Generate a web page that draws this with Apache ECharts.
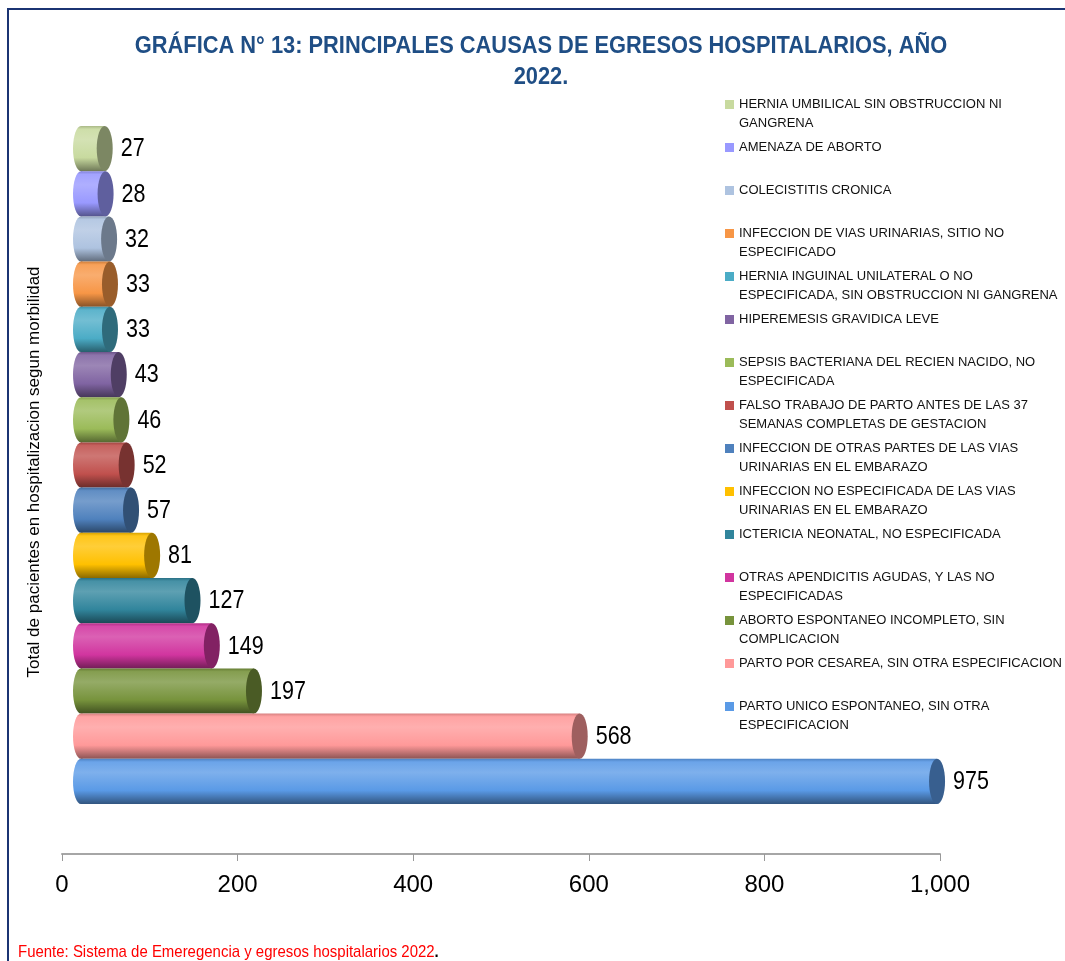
<!DOCTYPE html>
<html>
<head>
<meta charset="utf-8">
<script src="https://cdn.jsdelivr.net/npm/echarts@6/dist/echarts.min.js"></script>
<style>
	html, body { margin: 0; padding: 0; background: #fff; }
	#chart { width: 1065px; height: 961px; }
</style>
</head>
<body>
<div id="chart"></div>
<script>
// causas, de arriba hacia abajo (igual que la leyenda)
var causas = [
	'HERNIA UMBILICAL SIN OBSTRUCCION NI\nGANGRENA',
	'AMENAZA DE ABORTO',
	'COLECISTITIS CRONICA',
	'INFECCION DE VIAS URINARIAS, SITIO NO\nESPECIFICADO',
	'HERNIA INGUINAL UNILATERAL O NO\nESPECIFICADA, SIN OBSTRUCCION NI GANGRENA',
	'HIPEREMESIS GRAVIDICA LEVE',
	'SEPSIS BACTERIANA DEL RECIEN NACIDO, NO\nESPECIFICADA',
	'FALSO TRABAJO DE PARTO ANTES DE LAS 37\nSEMANAS COMPLETAS DE GESTACION',
	'INFECCION DE OTRAS PARTES DE LAS VIAS\nURINARIAS EN EL EMBARAZO',
	'INFECCION NO ESPECIFICADA DE LAS VIAS\nURINARIAS EN EL EMBARAZO',
	'ICTERICIA NEONATAL, NO ESPECIFICADA',
	'OTRAS APENDICITIS AGUDAS, Y LAS NO\nESPECIFICADAS',
	'ABORTO ESPONTANEO INCOMPLETO, SIN\nCOMPLICACION',
	'PARTO POR CESAREA, SIN OTRA ESPECIFICACION',
	'PARTO UNICO ESPONTANEO, SIN OTRA\nESPECIFICACION'
];
var pacientes = [27, 28, 32, 33, 33, 43, 46, 52, 57, 81, 127, 149, 197, 568, 975];
var colores = [
	'#C8DA9F', '#9999FF', '#AEC3E0', '#F79646', '#4BACC6',
	'#8064A2', '#9BBB59', '#C0504D', '#4F81BD', '#FFC000',
	'#31859C', '#D1359F', '#77933C', '#FF9999', '#5A9AE6'
];
var ticksX = [0, 200, 400, 600, 800, 1000];

var FUENTE = '"Liberation Sans", Arial, sans-serif';
var depth = 19; // desplazamiento del efecto 3D

function mix(hex, target, t) {
	var a = parseInt(hex.slice(1), 16), b = parseInt(target.slice(1), 16);
	var r = Math.round(((a >> 16) & 255) * (1 - t) + ((b >> 16) & 255) * t),
		g = Math.round(((a >> 8) & 255) * (1 - t) + ((b >> 8) & 255) * t),
		bl = Math.round((a & 255) * (1 - t) + (b & 255) * t);
	return 'rgb(' + r + ',' + g + ',' + bl + ')';
}

function cilindro(params, api) {
	var base = colores[params.seriesIndex];
	var ini = api.coord([0, api.value(1)]),
		fin = api.coord([api.value(0), api.value(1)]);
	var h = api.size([0, 1])[1],
		rx = 8,
		x0 = ini[0] + depth,
		x1 = fin[0] + depth,
		cy = fin[1];
	var grad = new echarts.graphic.LinearGradient(0, 0, 0, 1, [
		{ offset: 0, color: mix(base, '#000000', 0.15) },
		{ offset: 0.07, color: mix(base, '#ffffff', 0.1) },
		{ offset: 0.3, color: mix(base, '#ffffff', 0.22) },
		{ offset: 0.7, color: base },
		{ offset: 1, color: mix(base, '#000000', 0.45) }
	]);
	return {
		type: 'group',
		children: [
			{ type: 'ellipse', shape: { cx: x0, cy: cy, rx: rx, ry: h / 2 }, style: { fill: grad } },
			{ type: 'rect', shape: { x: x0, y: cy - h / 2, width: x1 - x0, height: h }, style: { fill: grad } },
			{ type: 'ellipse', shape: { cx: x1, cy: cy, rx: rx, ry: h / 2 }, style: { fill: mix(base, '#000000', 0.38) } },
			{
				type: 'text',
				x: x1 + rx + 8,
				y: cy + 1,
				scaleX: 0.86,
				style: {
					text: String(api.value(0)),
					font: '25px ' + FUENTE,
					fill: '#000',
					verticalAlign: 'middle'
				}
			}
		]
	};
}

var chart = echarts.init(document.getElementById('chart'));

chart.setOption({
	animation: false,
	graphic: [
		{
			type: 'rect',
			shape: { x: 8, y: 9, width: 1200, height: 1100 },
			style: { fill: 'none', stroke: '#1B3473', lineWidth: 2 }
		},
		{
			type: 'text',
			x: 541,
			y: 31,
			scaleX: 0.91,
			style: {
				text: 'GRÁFICA N° 13: PRINCIPALES CAUSAS DE EGRESOS HOSPITALARIOS, AÑO\n2022.',
				font: 'bold 24px ' + FUENTE,
				fill: '#1F4E85',
				lineHeight: 31,
				align: 'center',
				verticalAlign: 'top'
			}
		},
		{
			type: 'text',
			x: 18,
			y: 944,
			scaleX: 0.88,
			style: {
				text: '{r|Fuente: Sistema de Emeregencia y egresos hospitalarios 2022}{n|.}',
				rich: {
					r: { fill: '#FF0000', font: '17px ' + FUENTE },
					n: { fill: '#000', font: 'bold 17px ' + FUENTE }
				}
			}
		}
	],
	legend: {
		orient: 'vertical',
		left: 720,
		top: 71,
		itemWidth: 9,
		itemHeight: 9,
		itemGap: -14,
		icon: 'rect',
		data: causas,
		formatter: function (name) {
			return name.indexOf('\n') >= 0 ? '\n' + name : '\n' + name + '\n';
		},
		textStyle: {
			fontFamily: FUENTE,
			fontSize: 13,
			lineHeight: 19,
			color: '#111'
		}
	},
	grid: {
		left: 62,
		right: 125,
		top: 126,
		bottom: 157
	},
	xAxis: {
		type: 'value',
		min: 0,
		max: 1000,
		interval: 200,
		offset: 50,
		axisLine: { show: true, lineStyle: { color: '#A6A6A6', width: 2 } },
		axisTick: { show: true, length: 7, lineStyle: { color: '#999', width: 1 } },
		splitLine: { show: false },
		axisLabel: {
			margin: 19,
			fontSize: 24,
			fontFamily: FUENTE,
			color: '#000',
			formatter: function (v) {
				return ticksX.indexOf(v) >= 0 ? v.toLocaleString('en-US') : '';
			}
		}
	},
	yAxis: {
		type: 'category',
		inverse: true,
		data: causas,
		axisLine: { show: false },
		axisTick: { show: false },
		axisLabel: { show: false },
		name: 'Total de pacientes en hospitalizacion segun morbilidad',
		nameLocation: 'middle',
		nameRotate: 90,
		nameGap: 19,
		nameTextStyle: {
			fontFamily: FUENTE,
			fontSize: 17,
			color: '#000',
			padding: [0, 14, 0, 0]
		}
	},
	series: causas.map(function (c, i) {
		return {
			type: 'custom',
			name: c,
			color: colores[i],
			renderItem: cilindro,
			encode: { x: 0, y: 1 },
			data: [[pacientes[i], i]]
		};
	})
});
</script>
</body>
</html>
